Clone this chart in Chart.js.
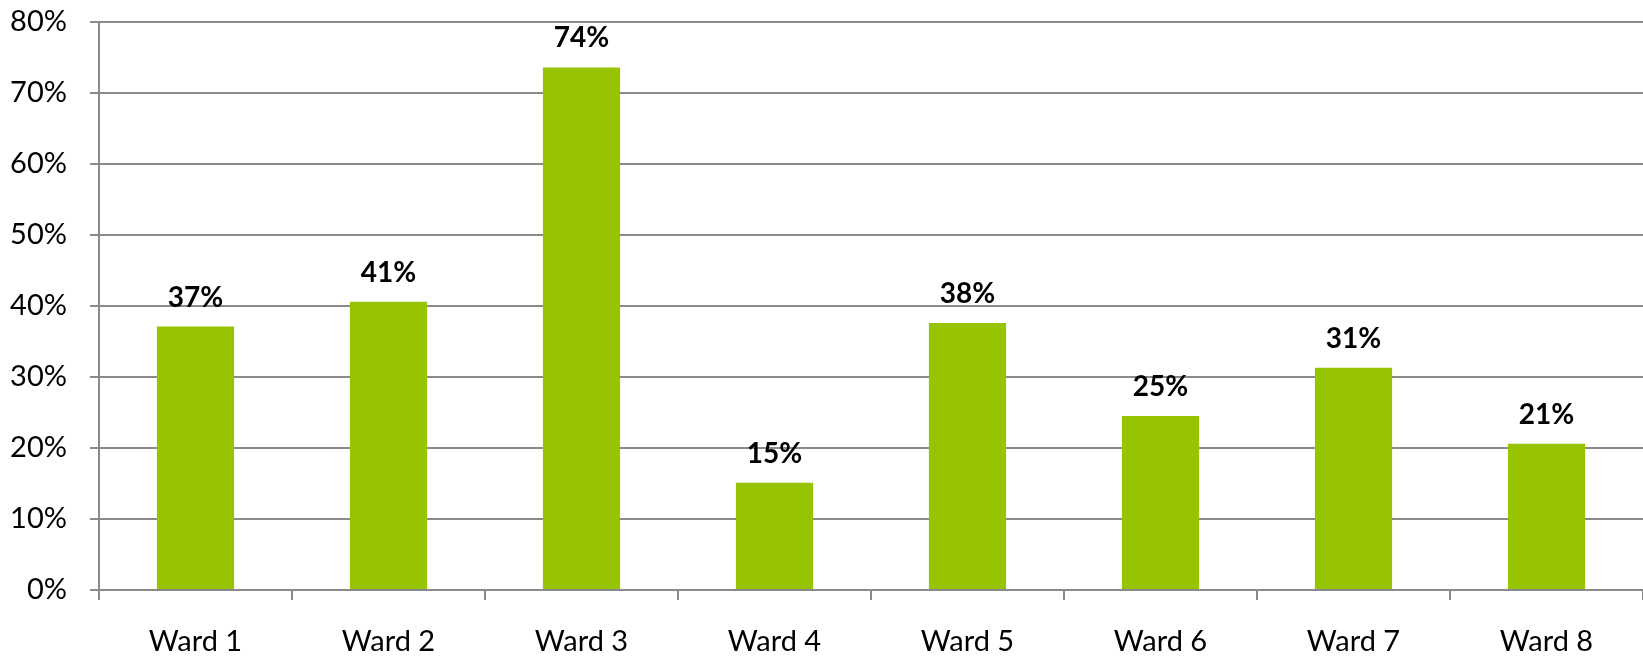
<!DOCTYPE html>
<html>
<head>
<meta charset="utf-8">
<script src="https://cdn.jsdelivr.net/npm/chart.js@4.4.1/dist/chart.umd.min.js"></script>
<style>
  html, body { margin: 0; padding: 0; background: #ffffff; }
  #wrap { width: 1643px; height: 657px; position: relative; }
</style>
</head>
<body>
<div id="wrap"><canvas id="c"></canvas></div>
<script>
const categories = ["Ward 1", "Ward 2", "Ward 3", "Ward 4", "Ward 5", "Ward 6", "Ward 7", "Ward 8"];
const values = [37.1, 40.6, 73.6, 15.1, 37.6, 24.5, 31.3, 20.6];
const valueLabels = ["37%", "41%", "74%", "15%", "38%", "25%", "31%", "21%"];
const yTickValues = [0, 10, 20, 30, 40, 50, 60, 70, 80];
const yTickLabels = ["0%", "10%", "20%", "30%", "40%", "50%", "60%", "70%", "80%"];

const FONT = "Lato, 'Open Sans', 'DejaVu Sans', sans-serif";
const GRID = "#8a8a8a";

const barLabels = {
  id: "barLabels",
  afterDatasetsDraw(chart) {
    const ctx = chart.ctx;
    const meta = chart.getDatasetMeta(0);
    ctx.save();
    ctx.font = "bold 28px " + FONT;
    ctx.fillStyle = "#000000";
    ctx.textAlign = "center";
    ctx.textBaseline = "alphabetic";
    meta.data.forEach((bar, i) => {
      ctx.fillText(valueLabels[i], bar.x, bar.y - 20);
    });
    ctx.restore();
  }
};

new Chart(document.getElementById("c"), {
  type: "bar",
  data: {
    labels: categories,
    datasets: [{
      data: values,
      backgroundColor: "#96c400",
      borderWidth: 0,
      barPercentage: 0.4,
      categoryPercentage: 1.0
    }]
  },
  options: {
    responsive: true,
    maintainAspectRatio: false,
    animation: false,
    devicePixelRatio: 1,
    layout: { padding: { top: 22, right: 0, bottom: 0, left: 0 } },
    plugins: {
      legend: { display: false },
      tooltip: { enabled: false },
      title: { display: false }
    },
    scales: {
      x: {
        offset: true,
        grid: {
          offset: true,
          drawOnChartArea: false,
          drawTicks: true,
          tickLength: 10,
          color: GRID,
          lineWidth: 2
        },
        border: { display: true, color: GRID, width: 2 },
        ticks: {
          color: "#000000",
          font: { family: FONT, size: 29 },
          padding: 24,
          maxRotation: 0
        },
        afterFit(scale) {
          scale.height = 67;
          scale.paddingLeft = 0; scale.paddingRight = 0;
        }
      },
      y: {
        min: 0,
        max: 80,
        afterBuildTicks(scale) {
          scale.ticks = yTickValues.map(v => ({ value: v }));
        },
        grid: {
          color: GRID,
          lineWidth: 2,
          drawTicks: true,
          tickLength: 9
        },
        border: { display: true, color: GRID, width: 2 },
        ticks: {
          color: "#000000",
          font: { family: FONT, size: 29 },
          padding: 23,
          callback(value) {
            const i = yTickValues.indexOf(value);
            return i >= 0 ? yTickLabels[i] : "";
          }
        },
        afterFit(scale) {
          scale.width = 99;
          scale.paddingTop = 0; scale.paddingBottom = 0;
        }
      }
    }
  },
  plugins: [barLabels]
});
</script>
</body>
</html>
